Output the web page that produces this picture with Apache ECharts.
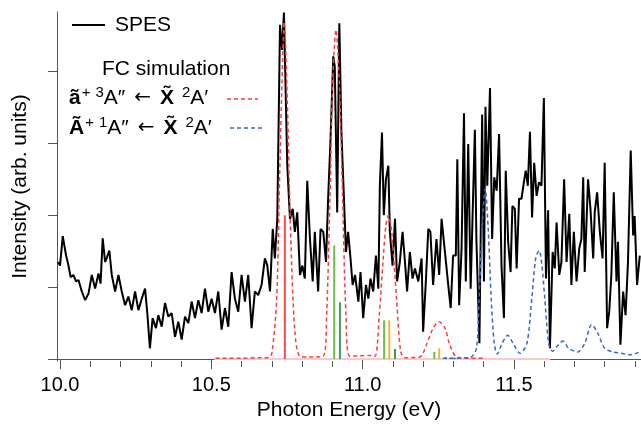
<!DOCTYPE html>
<html>
<head>
<meta charset="utf-8">
<script src="https://cdn.jsdelivr.net/npm/echarts@6/dist/echarts.min.js"></script>
<style>html,body{margin:0;padding:0;background:#fff;}#c{width:641px;height:426px;}</style>
</head>
<body>
<div id="c"></div>
<script>
// ---- SPES (experimental) ----
const energySPES = [9.994,10.000,10.009,10.020,10.028,10.035,10.044,10.053,10.061,10.072,10.083,10.094,10.105,10.116,10.127,10.134,10.141,10.149,10.154,10.163,10.171,10.182,10.193,10.204,10.215,10.226,10.237,10.248,10.259,10.270,10.281,10.289,10.297,10.306,10.317,10.325,10.336,10.347,10.358,10.369,10.380,10.391,10.402,10.413,10.424,10.435,10.446,10.457,10.468,10.479,10.490,10.501,10.512,10.523,10.534,10.545,10.556,10.567,10.578,10.589,10.600,10.611,10.622,10.633,10.644,10.655,10.666,10.677,10.685,10.694,10.703,10.710,10.718,10.727,10.734,10.740,10.751,10.760,10.769,10.776,10.784,10.793,10.801,10.809,10.817,10.826,10.835,10.842,10.853,10.861,10.870,10.879,10.886,10.894,10.903,10.908,10.916,10.923,10.930,10.938,10.945,10.952,10.960,10.967,10.975,10.986,10.993,11.002,11.011,11.019,11.026,11.035,11.044,11.052,11.057,11.064,11.070,11.077,11.085,11.090,11.099,11.107,11.114,11.123,11.132,11.140,11.147,11.156,11.165,11.173,11.184,11.195,11.200,11.209,11.217,11.224,11.233,11.244,11.253,11.261,11.272,11.283,11.291,11.299,11.308,11.313,11.319,11.327,11.335,11.341,11.349,11.357,11.371,11.376,11.386,11.395,11.401,11.406,11.412,11.421,11.428,11.435,11.443,11.451,11.459,11.467,11.473,11.481,11.489,11.495,11.503,11.509,11.517,11.525,11.533,11.539,11.546,11.553,11.560,11.567,11.575,11.583,11.591,11.599,11.606,11.613,11.619,11.628,11.635,11.641,11.650,11.657,11.666,11.674,11.683,11.690,11.698,11.707,11.716,11.723,11.729,11.734,11.745,11.753,11.762,11.767,11.775,11.784,11.793,11.800,11.808,11.815,11.822,11.830,11.839,11.844,11.852,11.861,11.869,11.877,11.886,11.894,11.899,11.907,11.916];
const intensitySPES = [1.35,1.30,1.71,1.44,1.30,1.14,1.17,1.08,1.10,0.94,0.82,0.91,1.17,0.98,1.19,1.05,1.68,1.35,1.40,1.51,1.17,0.94,1.17,0.94,0.75,0.87,0.68,0.94,0.68,0.84,0.98,0.61,0.15,0.57,0.43,0.61,0.45,0.78,0.59,0.64,0.31,0.52,0.27,0.59,0.50,0.80,0.57,0.82,0.64,0.98,0.66,0.84,0.64,0.94,0.41,0.71,0.45,1.21,0.84,0.66,1.17,0.80,1.17,0.43,0.94,0.89,1.03,1.40,1.30,0.94,1.81,1.40,1.95,4.65,4.30,4.82,2.69,1.95,2.09,1.77,2.04,1.17,1.30,1.12,2.48,1.67,1.08,1.77,0.94,1.81,1.77,1.35,2.23,3.06,4.21,4.07,2.04,4.67,3.15,2.27,1.49,1.77,1.40,1.03,1.17,0.80,1.21,0.57,1.03,0.84,1.12,0.94,1.44,0.98,2.41,3.15,2.00,2.50,2.69,1.77,1.30,1.95,1.08,1.35,1.77,1.35,0.94,1.49,1.12,1.26,1.08,1.40,0.38,1.08,1.81,1.77,1.03,1.67,1.17,1.95,1.49,1.03,0.71,1.44,1.44,2.78,0.75,1.54,3.42,1.08,2.99,0.98,3.19,1.67,0.22,3.40,1.08,3.51,2.41,3.77,1.67,2.53,2.34,3.13,1.30,0.57,2.62,1.63,1.21,2.13,2.09,1.26,2.23,2.23,2.46,2.62,2.41,3.16,1.97,2.73,2.27,2.46,2.41,3.63,1.12,2.07,0.15,1.49,1.26,1.90,1.17,1.35,2.50,1.35,2.02,1.03,1.77,1.08,1.54,1.67,2.53,1.21,2.50,2.09,1.40,2.04,2.32,1.77,1.40,2.73,0.43,0.66,1.17,2.32,1.08,1.63,0.20,0.94,0.61,1.35,2.90,1.72,1.99,1.03,1.44];

// ---- FC simulation: a+ 3A'' <- X 2A' (red dashed) ----
const energyTriplet = [10.514,10.600,10.660,10.687,10.700,10.716,10.724,10.732,10.741,10.751,10.762,10.776,10.793,10.826,10.870,10.881,10.892,10.901,10.912,10.923,10.934,10.945,10.958,11.024,11.041,11.055,11.068,11.077,11.085,11.096,11.112,11.126,11.140,11.189,11.211,11.233,11.253,11.272,11.288,11.308,11.350,11.400];
const intensityTriplet = [0.01,0.01,0.02,0.02,0.08,0.84,2.23,3.61,4.69,3.61,1.77,0.39,0.04,0.03,0.04,0.61,2.23,3.85,4.58,3.85,2.23,0.61,0.04,0.05,0.04,0.61,1.40,1.86,2.00,1.77,0.84,0.10,0.02,0.03,0.20,0.43,0.52,0.43,0.20,0.04,0.01,0.01];

// ---- FC simulation: A+ 1A'' <- X 2A' (blue dashed) ----
const energySinglet = [11.265,11.354,11.376,11.385,11.395,11.405,11.415,11.425,11.435,11.445,11.461,11.480,11.497,11.520,11.543,11.559,11.572,11.583,11.592,11.602,11.615,11.628,11.645,11.662,11.681,11.711,11.734,11.757,11.777,11.800,11.827,11.856,11.883,11.916];
const intensitySinglet = [0.01,0.02,0.15,0.84,1.81,2.37,1.81,0.84,0.22,0.07,0.22,0.33,0.22,0.08,0.22,0.84,1.40,1.51,1.33,0.84,0.22,0.11,0.19,0.25,0.15,0.10,0.22,0.48,0.36,0.15,0.10,0.08,0.06,0.10];

// ---- stick spectra ----
const redSticksE = [10.743];
const redSticksH = [2.00];
const greenSticksE = [10.906, 11.071, 11.237];
const greenSticksH = [1.58, 0.54, 0.10];
const darkGreenSticksE = [10.925, 11.107];
const darkGreenSticksH = [0.79, 0.14];
const orangeSticksE = [11.088, 11.253];
const orangeSticksH = [0.54, 0.15];
const blueSticksE = [11.275, 11.290, 11.305];
const blueSticksH = [0.03, 0.02, 0.02];
const pinkBaselineE = [10.51, 11.62];
const pinkBaselineH = [0, 0];

// ---- axis ticks ----
const xMajorTicks = [10.0, 10.5, 11.0, 11.5];
const xMinorTicks = [10.1,10.2,10.3,10.4,10.6,10.7,10.8,10.9,11.1,11.2,11.3,11.4,11.6,11.7,11.8,11.9];
const yTicks = [0, 1, 2, 3, 4];

const zip = (a, b) => a.map((v, i) => [v, b[i]]);
const FONT = "'Liberation Sans', Arial, Helvetica, sans-serif";
const ARROW_FONT = "'DejaVu Sans', sans-serif";
const AXIS_COLOR = '#555';

const stickItems = [];
const addSticks = (E, H, color) => E.forEach((e, i) => stickItems.push({ value: [e, H[i]], itemStyle: { color } }));
addSticks(redSticksE, redSticksH, '#ff4a4a');
addSticks(greenSticksE, greenSticksH, '#6cc04a');
addSticks(darkGreenSticksE, darkGreenSticksH, '#3f9f5a');
addSticks(orangeSticksE, orangeSticksH, '#f7b13c');
addSticks(blueSticksE, blueSticksH, '#4a70d0');

const legendRich = {
  b: { fontFamily: FONT, fontSize: 21, fontWeight: 'bold', lineHeight: 26 },
  n: { fontFamily: FONT, fontSize: 21, lineHeight: 26 },
  p: { fontFamily: FONT, fontSize: 15, lineHeight: 15, verticalAlign: 'top', padding: [0, 0, 0, 1] },
  d: { fontFamily: FONT, fontSize: 15, lineHeight: 15, verticalAlign: 'top', padding: [0, 0, 0, 5] },
  d2: { fontFamily: FONT, fontSize: 15, lineHeight: 15, verticalAlign: 'top', padding: [0, 0, 0, 8] },
  a: { fontFamily: ARROW_FONT, fontSize: 20, lineHeight: 26, padding: [0, 9, 0, 9] }
};

const chart = echarts.init(document.getElementById('c'), null, { renderer: 'canvas' });
const option = {
  backgroundColor: '#fff',
  animation: false,
  grid: { left: 57, right: 0, top: 12, bottom: 63, containLabel: false },
  xAxis: [
    {
      type: 'value', min: 9.99, max: 11.92, position: 'bottom',
      name: 'Photon Energy (eV)', nameLocation: 'middle', nameGap: 37,
      nameTextStyle: { fontFamily: FONT, fontSize: 21, color: '#000' },
      axisLine: { show: true, lineStyle: { color: AXIS_COLOR, width: 1 } },
      axisTick: { show: true, customValues: xMajorTicks, length: 10, lineStyle: { color: AXIS_COLOR, width: 1 } },
      axisLabel: { show: true, customValues: xMajorTicks, margin: 14, fontFamily: FONT, fontSize: 20, color: '#000', formatter: v => v.toFixed(1) },
      splitLine: { show: false }
    },
    {
      type: 'value', min: 9.99, max: 11.92, position: 'bottom',
      axisLine: { show: false },
      axisTick: { show: true, customValues: xMinorTicks, length: 6, lineStyle: { color: AXIS_COLOR, width: 1 } },
      axisLabel: { show: false },
      splitLine: { show: false }
    }
  ],
  yAxis: {
    type: 'value', min: -0.028, max: 4.827,
    name: 'Intensity (arb. units)', nameLocation: 'middle', nameGap: 26, nameRotate: 90,
    nameTextStyle: { fontFamily: FONT, fontSize: 21, color: '#000' },
    axisLine: { show: true, lineStyle: { color: AXIS_COLOR, width: 1 } },
    axisTick: { show: true, customValues: yTicks, length: 9, lineStyle: { color: AXIS_COLOR, width: 1 } },
    axisLabel: { show: false },
    splitLine: { show: false }
  },
  series: [
    {
      name: 'SPES', type: 'line', xAxisIndex: 0, data: zip(energySPES, intensitySPES),
      showSymbol: false, lineStyle: { color: '#000', width: 2 }, z: 2
    },
    {
      name: 'baseline', type: 'line', xAxisIndex: 0, data: zip(pinkBaselineE, pinkBaselineH),
      showSymbol: false, lineStyle: { color: '#f8caca', width: 2 }, z: 3
    },
    {
      name: 'sticks', type: 'bar', xAxisIndex: 0, data: stickItems, barWidth: 2, z: 4
    },
    {
      name: 'triplet', type: 'line', xAxisIndex: 0, data: zip(energyTriplet, intensityTriplet), smooth: 0.3,
      showSymbol: false, lineStyle: { color: '#ff3b3b', width: 1.5, type: [4, 3] }, z: 5
    },
    {
      name: 'singlet', type: 'line', xAxisIndex: 0, data: zip(energySinglet, intensitySinglet), smooth: 0.3,
      showSymbol: false, lineStyle: { color: '#3f63c8', width: 1.5, type: [4, 3] }, z: 5
    }
  ],
  graphic: [
    { type: 'line', shape: { x1: 72, y1: 25, x2: 105, y2: 25 }, style: { stroke: '#000', lineWidth: 2 } },
    { type: 'text', x: 115, y: 25, style: { text: 'SPES', fontFamily: FONT, fontSize: 21, fill: '#000', verticalAlign: 'middle' } },
    { type: 'text', x: 102, y: 69, style: { text: 'FC simulation', fontFamily: FONT, fontSize: 21, fill: '#000', verticalAlign: 'middle' } },
    {
      type: 'text', x: 69, y: 98,
      style: { text: '{b|ã}{p|+}{d|3}{n|A″}{a|←}{b|X̃}{d2|2}{n|A′}', verticalAlign: 'middle', fill: '#000', rich: legendRich }
    },
    { type: 'line', shape: { x1: 227, y1: 99, x2: 258, y2: 99 }, style: { stroke: '#ff3b3b', lineWidth: 1.5, lineDash: [4, 3] } },
    {
      type: 'text', x: 69, y: 128,
      style: { text: '{b|Ã}{p|+}{d|1}{n|A″}{a|←}{b|X̃}{d2|2}{n|A′}', verticalAlign: 'middle', fill: '#000', rich: legendRich }
    },
    { type: 'line', shape: { x1: 230, y1: 128, x2: 262, y2: 128 }, style: { stroke: '#3f63c8', lineWidth: 1.5, lineDash: [4, 3] } }
  ]
};
chart.setOption(option);
</script>
</body>
</html>
